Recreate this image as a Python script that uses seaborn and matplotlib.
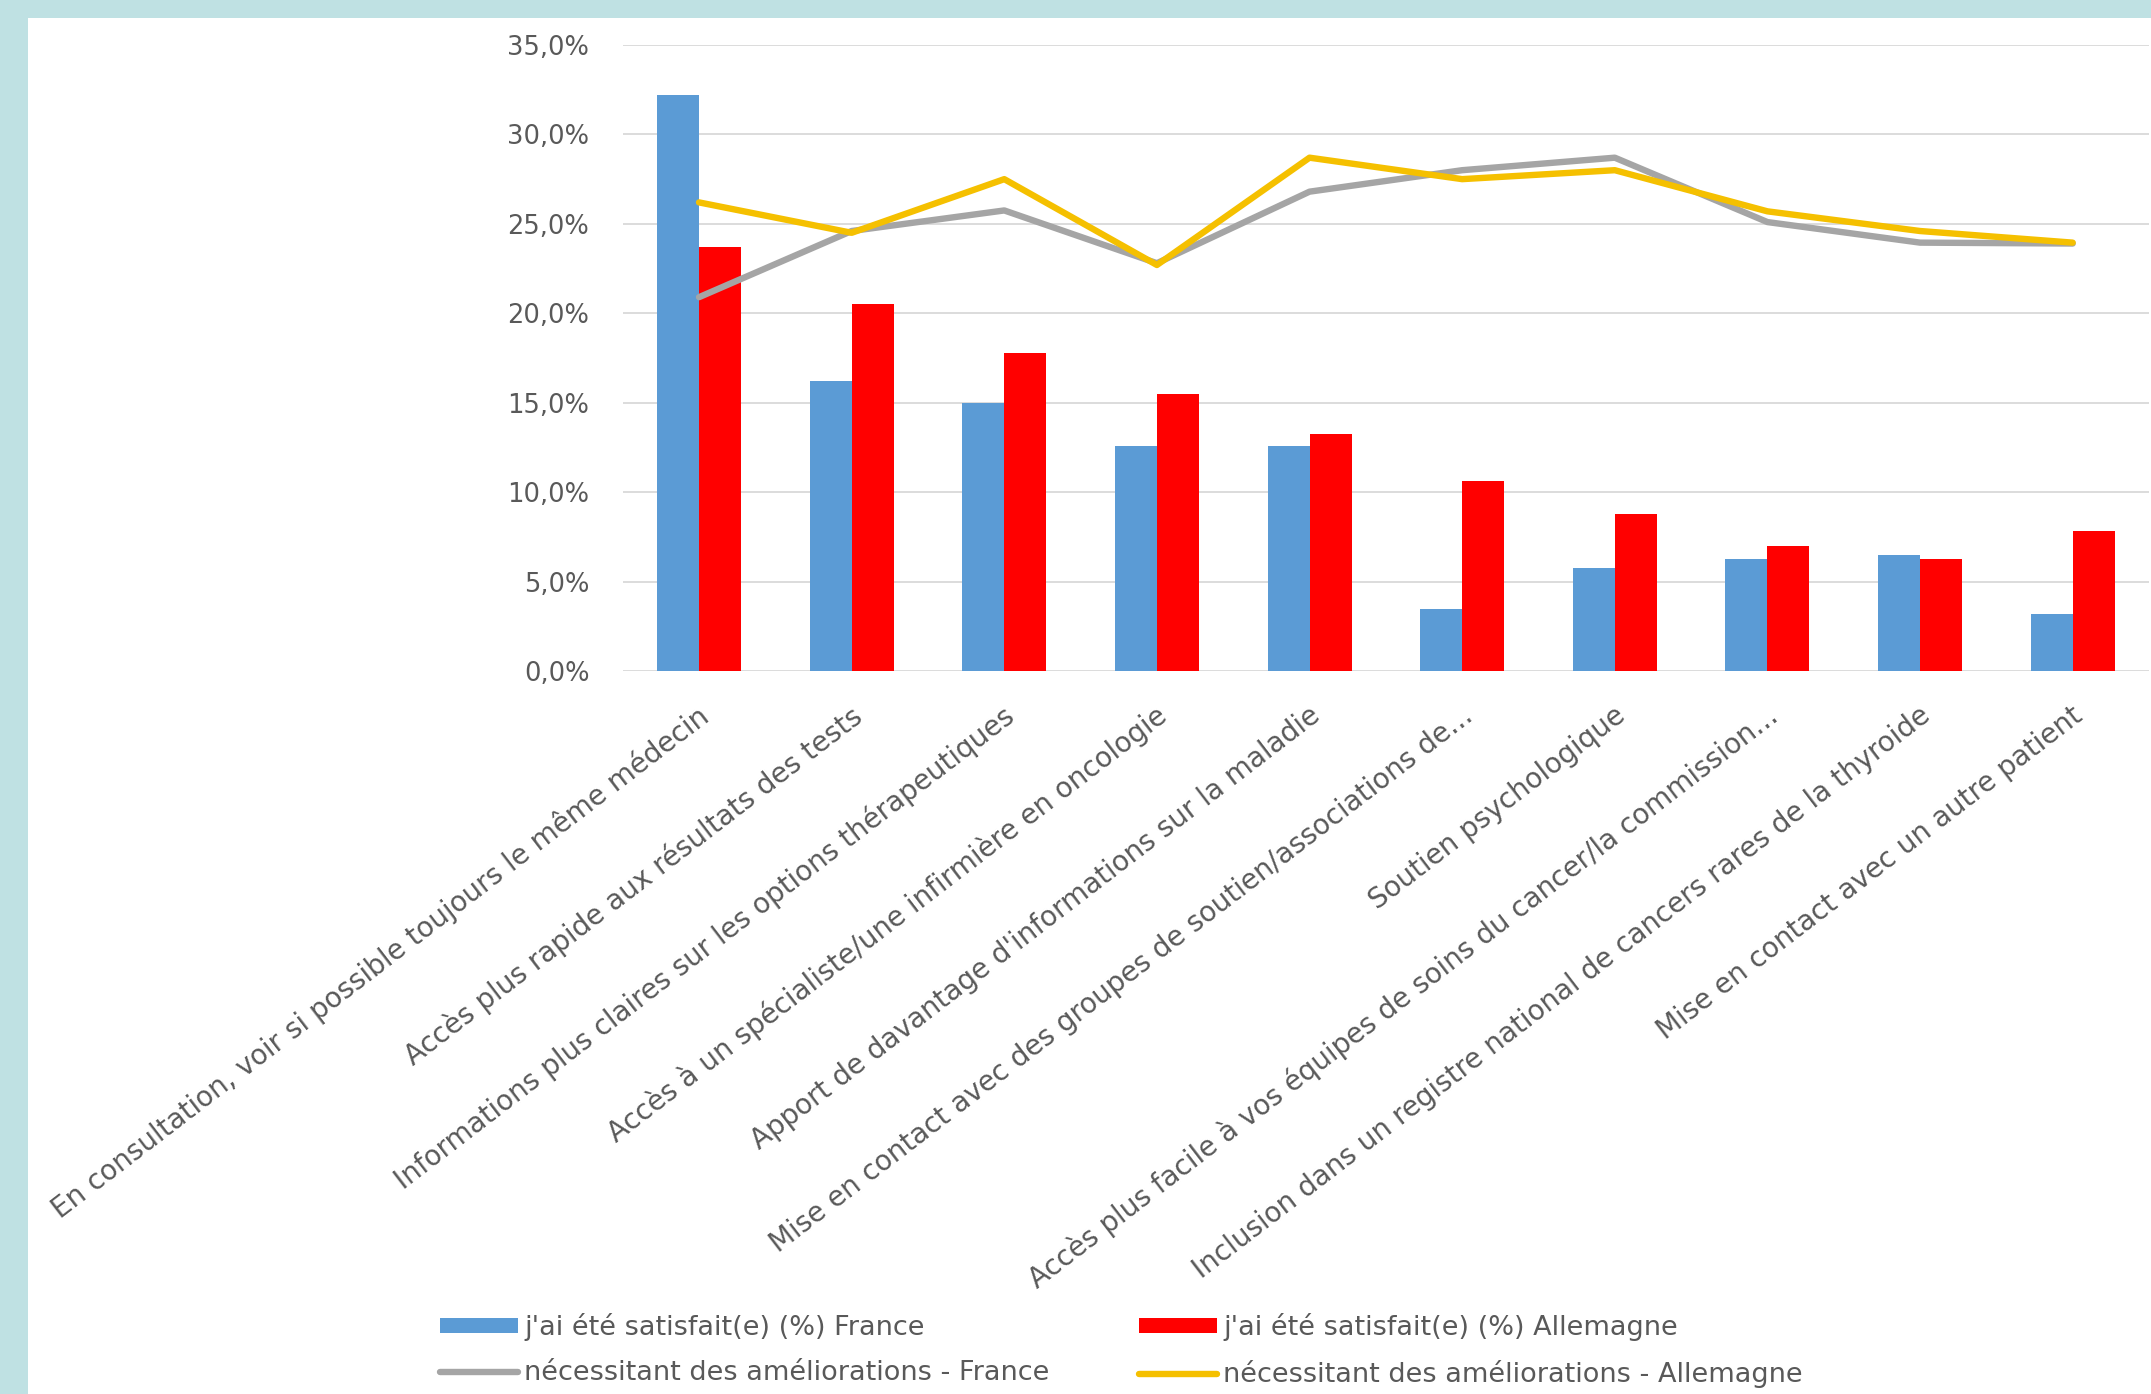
import numpy as np
import pandas as pd
import matplotlib
matplotlib.use("Agg")
import matplotlib.pyplot as plt
import matplotlib.transforms as mtransforms
from matplotlib.patches import Rectangle, Patch
from matplotlib.lines import Line2D
from matplotlib.ticker import FuncFormatter
import seaborn as sns

# ---- données ----
categories = [
    "En consultation, voir si possible toujours le même médecin",
    "Accès plus rapide aux résultats des tests",
    "Informations plus claires sur les options thérapeutiques",
    "Accès à un spécialiste/une infirmière en oncologie",
    "Apport de davantage d'informations sur la maladie",
    "Mise en contact avec des groupes de soutien/associations de...",
    "Soutien psychologique",
    "Accès plus facile à vos équipes de soins du cancer/la commission...",
    "Inclusion dans un registre national de cancers rares de la thyroide",
    "Mise en contact avec un autre patient",
]
satisfait_france = [32.2, 16.2, 15.0, 12.6, 12.6, 3.45, 5.75, 6.25, 6.5, 3.2]
satisfait_allemagne = [23.7, 20.5, 17.8, 15.5, 13.25, 10.6, 8.8, 7.0, 6.25, 7.8]
ameliorations_france = [20.9, 24.6, 25.75, 22.8, 26.8, 28.0, 28.7, 25.1, 23.95, 23.9]
ameliorations_allemagne = [26.2, 24.5, 27.5, 22.7, 28.7, 27.5, 28.0, 25.7, 24.6, 23.95]

noms_barres = ["j'ai été satisfait(e) (%) France", "j'ai été satisfait(e) (%) Allemagne"]
noms_lignes = ["nécessitant des améliorations - France",
               "nécessitant des améliorations - Allemagne"]
y_ticks = [0, 5, 10, 15, 20, 25, 30, 35]

BLEU, ROUGE, GRIS, JAUNE = "#5b9bd5", "#ff0000", "#a5a5a5", "#f5c000"
TEXTE = "#595959"

sns.set_theme(style="white")
plt.rcParams["font.family"] = ["DejaVu Sans"]

W, H = 2151, 1394
fig = plt.figure(figsize=(W / 100, H / 100), dpi=100)
fig.patch.set_facecolor("#bfe1e3")
fig.patches.append(Rectangle((28 / W, 0), 1, (H - 18) / H, transform=fig.transFigure,
                             facecolor="white", edgecolor="none", zorder=-5))

ax = fig.add_axes([622.7 / W, (H - 671) / H, (2149 - 622.7) / W, (671 - 45) / H])
ax.set_facecolor("white")

df = pd.DataFrame({
    "categorie": categories * 2,
    "serie": [noms_barres[0]] * len(categories) + [noms_barres[1]] * len(categories),
    "valeur": satisfait_france + satisfait_allemagne,
})
sns.barplot(data=df, x="categorie", y="valeur", hue="serie", order=categories,
            hue_order=noms_barres, palette=[BLEU, ROUGE], saturation=1, width=0.55,
            errorbar=None, linewidth=0, legend=False, ax=ax, zorder=2)

pos = np.arange(len(categories))
sns.lineplot(x=pos, y=ameliorations_france, color=GRIS, linewidth=4.6, ax=ax,
             solid_joinstyle="round", solid_capstyle="round", zorder=3)
sns.lineplot(x=pos, y=ameliorations_allemagne, color=JAUNE, linewidth=4.6, ax=ax,
             solid_joinstyle="round", solid_capstyle="round", zorder=4)

ax.set_xlim(-0.5, len(categories) - 0.5)
ax.set_ylim(0, 35)
ax.set_yticks(y_ticks)
ax.yaxis.set_major_formatter(FuncFormatter(lambda v, p: f"{v:.1f}".replace(".", ",") + "%"))
ax.yaxis.grid(True, color="#d9d9d9", linewidth=1.3, zorder=0)
ax.xaxis.grid(False)
ax.set_axisbelow(True)
for s in ax.spines.values():
    s.set_visible(False)
ax.set_xlabel("")
ax.set_ylabel("")

ax.tick_params(axis="y", length=0, pad=24, labelsize=18.5, labelcolor=TEXTE)
ax.tick_params(axis="x", length=0, pad=30, labelsize=20, labelcolor=TEXTE)
decal = mtransforms.ScaledTranslation(0.07, 0, fig.dpi_scale_trans)
for lab in ax.get_xticklabels():
    lab.set_rotation(37.5)
    lab.set_ha("right")
    lab.set_va("center")
    lab.set_rotation_mode("anchor")
    lab.set_transform(lab.get_transform() + decal)

# ---- légende en deux colonnes ----
fs = 19.5
fs_px = fs * 100 / 72
kw = dict(frameon=False, fontsize=fs, labelcolor=TEXTE, loc="upper left",
          borderpad=0, borderaxespad=0, handlelength=78 / fs_px, handleheight=14 / fs_px,
          handletextpad=6 / fs_px, labelspacing=0.72)
h1 = [Patch(facecolor=BLEU, edgecolor="none"), Line2D([], [], color=GRIS, lw=4.6)]
h2 = [Patch(facecolor=ROUGE, edgecolor="none"), Line2D([], [], color=JAUNE, lw=4.6)]
fig.legend(h1, [noms_barres[0], noms_lignes[0]], bbox_to_anchor=(440 / W, (H - 1313) / H), **kw)
fig.legend(h2, [noms_barres[1], noms_lignes[1]], bbox_to_anchor=(1139 / W, (H - 1313) / H), **kw)

fig.savefig("out.png", dpi=100, facecolor=fig.get_facecolor())
